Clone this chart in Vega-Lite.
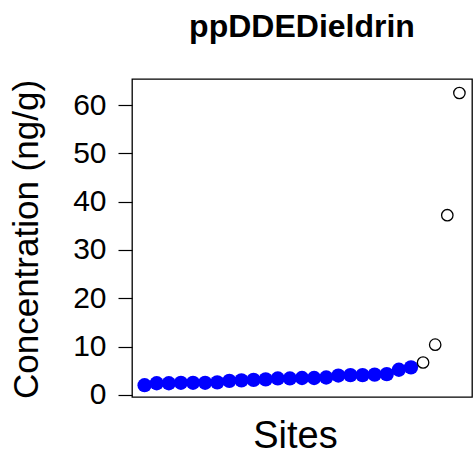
{
  "$schema": "https://vega.github.io/schema/vega-lite/v6.json",
  "width": 340,
  "height": 318,
  "autosize": {"type": "none"},
  "padding": {"left": 132, "top": 79, "right": 1, "bottom": 62},
  "background": "white",
  "config": {
    "font": "Liberation Sans",
    "view": {"stroke": "black", "strokeWidth": 1.3}
  },
  "title": {
    "text": "ppDDEDieldrin",
    "fontSize": 32,
    "fontWeight": "bold",
    "font": "Liberation Sans",
    "color": "black",
    "anchor": "middle",
    "offset": 35
  },
  "data": {
    "values": [
      {"site": 1, "conc": 2.0, "group": "low"},
      {"site": 2, "conc": 2.4, "group": "low"},
      {"site": 3, "conc": 2.4, "group": "low"},
      {"site": 4, "conc": 2.5, "group": "low"},
      {"site": 5, "conc": 2.5, "group": "low"},
      {"site": 6, "conc": 2.5, "group": "low"},
      {"site": 7, "conc": 2.6, "group": "low"},
      {"site": 8, "conc": 2.9, "group": "low"},
      {"site": 9, "conc": 3.0, "group": "low"},
      {"site": 10, "conc": 3.1, "group": "low"},
      {"site": 11, "conc": 3.2, "group": "low"},
      {"site": 12, "conc": 3.4, "group": "low"},
      {"site": 13, "conc": 3.4, "group": "low"},
      {"site": 14, "conc": 3.5, "group": "low"},
      {"site": 15, "conc": 3.5, "group": "low"},
      {"site": 16, "conc": 3.6, "group": "low"},
      {"site": 17, "conc": 4.0, "group": "low"},
      {"site": 18, "conc": 4.1, "group": "low"},
      {"site": 19, "conc": 4.1, "group": "low"},
      {"site": 20, "conc": 4.2, "group": "low"},
      {"site": 21, "conc": 4.3, "group": "low"},
      {"site": 22, "conc": 5.2, "group": "low"},
      {"site": 23, "conc": 5.7, "group": "low"},
      {"site": 24, "conc": 6.7, "group": "high"},
      {"site": 25, "conc": 10.4, "group": "high"},
      {"site": 26, "conc": 37.2, "group": "high"},
      {"site": 27, "conc": 62.5, "group": "high"}
    ]
  },
  "layer": [
    {
      "transform": [{"filter": "datum.group === 'low'"}],
      "mark": {"type": "point", "shape": "circle", "filled": true, "color": "#0000ff", "size": 205, "opacity": 1},
      "encoding": {
        "x": {"field": "site", "type": "quantitative", "scale": {"domain": [-0.04, 28.04], "nice": false, "zero": false},
          "axis": {"title": "Sites", "labels": false, "ticks": false, "domain": false, "grid": false,
            "titleFontSize": 38, "titleFontWeight": "normal", "titleColor": "black", "titleX": 163, "titleY": 39, "titleBaseline": "middle", "titleAlign": "center"}},
        "y": {"field": "conc", "type": "quantitative", "scale": {"domain": [-0.44, 65.4], "nice": false, "zero": false},
          "axis": {"title": "Concentration (ng/g)", "values": [0, 10, 20, 30, 40, 50, 60], "grid": false, "domain": false,
            "tickSize": 14, "tickColor": "black", "tickWidth": 1.2, "labelPadding": 12, "labelFontSize": 30, "labelColor": "black", "labelAngle": 0,
            "labelFlush": false,
            "titleFontSize": 35, "titleFontWeight": "normal", "titleColor": "black", "titleX": -106, "titleY": 160, "titleAngle": -90, "titleAlign": "center", "titleBaseline": "middle"}}
      }
    },
    {
      "transform": [{"filter": "datum.group === 'high'"}],
      "mark": {"type": "point", "shape": "circle", "filled": false, "stroke": "black", "strokeWidth": 1.3, "size": 130, "opacity": 1},
      "encoding": {
        "x": {"field": "site", "type": "quantitative"},
        "y": {"field": "conc", "type": "quantitative"}
      }
    }
  ]
}
